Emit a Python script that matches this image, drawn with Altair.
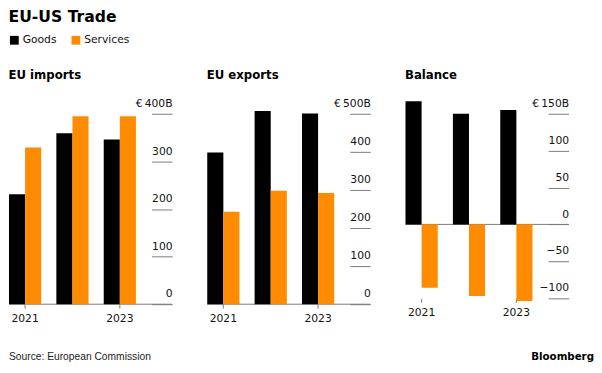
import altair as alt
import pandas as pd

years = ["2021", "2022", "2023"]
series = ["Goods", "Services"]
colors = ["#000000", "#ff8c00"]

imports_goods = [231, 359, 346]
imports_services = [329, 395, 395]
exports_goods = [398, 507, 501]
exports_services = [243, 298, 292]
balance_goods = [167, 150, 155]
balance_services = [-86, -97, -104]

FONT = "DejaVu Sans"
W, H = 167, 210
GRAY = "#7a7a7a"


def make_df(goods, services):
    rows = []
    for y, g, s in zip(years, goods, services):
        rows.append({"year": y, "series": "Goods", "value": g})
        rows.append({"year": y, "series": "Services", "value": s})
    return pd.DataFrame(rows)


def panel(df, title, domain, ticks, top, x_offset=0, extra=None):
    label_expr = (
        f"datum.value == {top} ? '\u20ac\u2009' + datum.label + 'B' : datum.label"
    )
    y_scale = alt.Scale(domain=domain, nice=False)
    y_axis = alt.Axis(
        orient="right",
        values=ticks,
        offset=-21,
        tickSize=21,
        tickColor=GRAY,
        domain=False,
        grid=False,
        title=None,
        labelAlign="right",
        labelPadding=0,
        labelBaseline="alphabetic",
        labelOffset=-7.5,
        labelFontSize=11,
        labelFont=FONT,
        labelColor="#111",
        labelExpr=label_expr,
    )
    zero = alt.Chart(pd.DataFrame({"value": [0]})).mark_rule(
        color=GRAY, strokeWidth=1
    ).encode(y=alt.Y("value:Q", scale=y_scale, axis=y_axis))
    bars = alt.Chart(df).mark_bar().encode(
        x=alt.X(
            "year:N",
            sort=years,
            scale=alt.Scale(range=[0, 130], paddingInner=0.32, paddingOuter=0),
            axis=alt.Axis(
                values=["2021", "2023"],
                title=None,
                labelAngle=0,
                domain=False,
                tickColor=GRAY,
                tickSize=4,
                labelPadding=5,
                labelFontSize=11,
                labelFont=FONT,
                labelColor="#111",
                offset=x_offset,
            ),
        ),
        xOffset=alt.XOffset(
            "series:N",
            sort=series,
            scale=alt.Scale(domain=series, paddingInner=0, paddingOuter=0),
        ),
        y=alt.Y("value:Q", scale=y_scale, axis=y_axis),
        color=alt.Color(
            "series:N",
            scale=alt.Scale(domain=series, range=colors),
            legend=alt.Legend(
                orient="none",
                legendX=0,
                legendY=-66,
                direction="horizontal",
                title=None,
                symbolType="square",
                symbolSize=81,
                symbolStrokeWidth=0,
                symbolOpacity=1,
                labelFontSize=11,
                labelFont=FONT,
                labelColor="#111",
                labelOffset=3,
                columnPadding=14,
            ),
        ),
    )
    layers = [zero, bars]
    if extra is not None:
        layers.append(extra)
    return alt.layer(*layers).properties(
        width=W,
        height=H,
        title=alt.TitleParams(
            title,
            anchor="start",
            fontSize=12,
            font=FONT,
            fontWeight="bold",
            color="#000",
            offset=16,
        ),
    )


source = alt.Chart(pd.DataFrame({"t": ["Source: European Commission"]})).mark_text(
    align="left", baseline="middle", fontSize=10.5, font="Liberation Sans", color="#222"
).encode(text="t:N", x=alt.value(0), y=alt.value(H + 54))

brand = alt.Chart(pd.DataFrame({"t": ["Bloomberg"]})).mark_text(
    align="right", baseline="middle", fontSize=10.5, font=FONT, fontWeight="bold", color="#000"
).encode(text="t:N", x=alt.value(W + 26), y=alt.value(H + 54))

p1 = panel(make_df(imports_goods, imports_services), "EU imports", [0, 430.8],
           [0, 100, 200, 300, 400], 400, extra=source)
p2 = panel(make_df(exports_goods, exports_services), "EU exports", [0, 538.5],
           [0, 100, 200, 300, 400, 500], 500)
p3 = panel(make_df(balance_goods, balance_services), "Balance", [-108.2, 169.9],
           [-100, -50, 0, 50, 100, 150], 150, x_offset=-6, extra=brand)

chart = alt.hconcat(p1, p2, p3, spacing=34).resolve_scale(
    color="shared"
).properties(
    title=alt.TitleParams(
        "EU-US Trade",
        anchor="start",
        fontSize=16,
        font=FONT,
        fontWeight="bold",
        color="#000",
        offset=10,
    ),
    padding={"left": 0, "top": -3, "right": 0, "bottom": 0},
    background="white",
).configure_view(stroke=None)

chart.save("out.html", embed_options={"renderer": "svg", "actions": False})
